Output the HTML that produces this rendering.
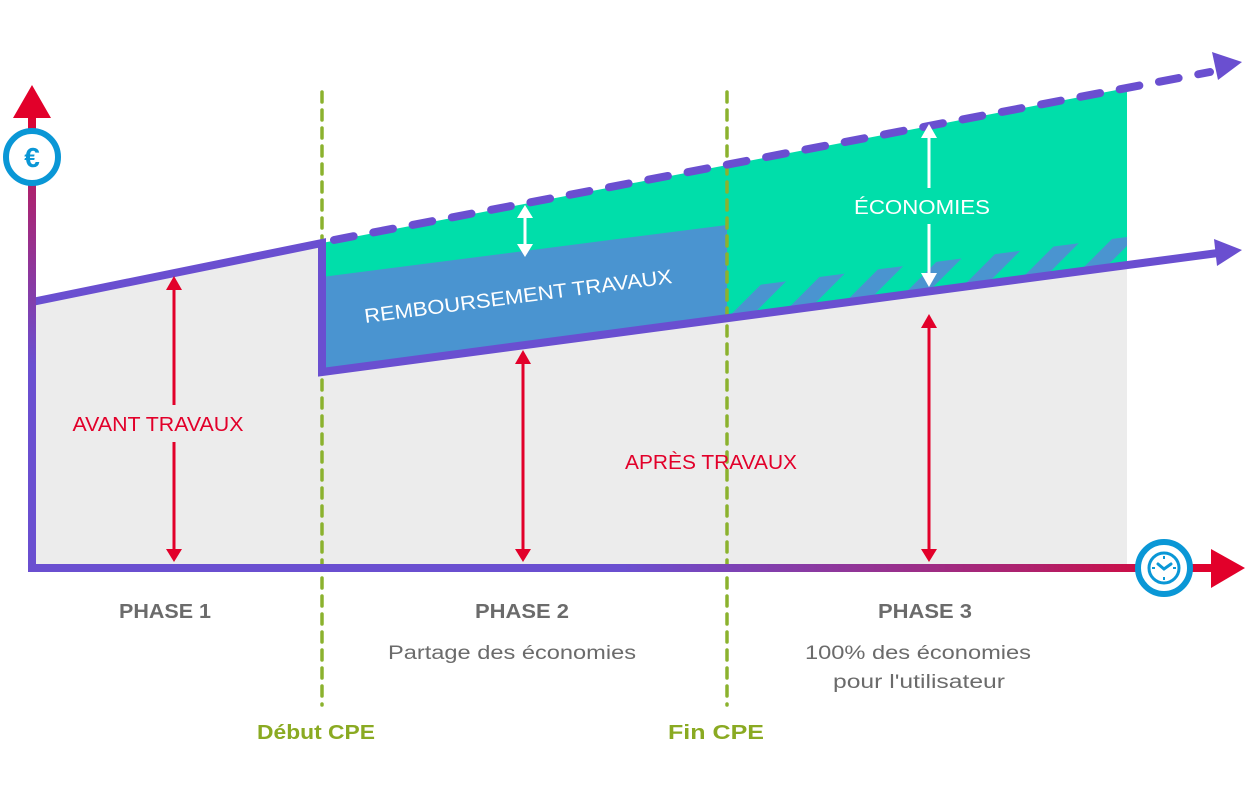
<!DOCTYPE html>
<html><head><meta charset="utf-8"><style>
html,body{margin:0;padding:0;background:#fff;width:1250px;height:788px;overflow:hidden}
svg{display:block}
text{font-family:"Liberation Sans",sans-serif}
</style></head><body>
<svg width="1250" height="788" viewBox="0 0 1250 788" xmlns="http://www.w3.org/2000/svg">
<defs>
<linearGradient id="gy" x1="0" y1="1" x2="0" y2="0"><stop offset="0" stop-color="#6a4fd0"/><stop offset="0.45" stop-color="#6a4fd0"/><stop offset="0.85" stop-color="#b0206a"/><stop offset="1" stop-color="#e2002a"/></linearGradient>
<linearGradient id="gx" x1="0" y1="0" x2="1" y2="0"><stop offset="0" stop-color="#6a4fd0"/><stop offset="0.5" stop-color="#6a4fd0"/><stop offset="0.85" stop-color="#b0206a"/><stop offset="1" stop-color="#e2002a"/></linearGradient>
<pattern id="hatch" patternUnits="userSpaceOnUse" width="36" height="20" patternTransform="translate(740,0) rotate(45)">
<rect x="0" y="0" width="15.5" height="20" fill="#4a94d0"/>
</pattern>
</defs>
<polygon points="32,302 322,243 322,372 1127,265 1127,568 32,568" fill="#ececec"/>
<polygon points="322,243 1127,88 1127,265 322,372" fill="#00deaa"/>
<polygon points="322,277 727,225 727,318 322,372" fill="#4a94d0"/>
<polygon points="727,289 1127,237 1127,265 727,318" fill="url(#hatch)"/>
<line x1="322" y1="92" x2="322" y2="705" stroke="#8bb22e" stroke-width="3.5" stroke-dasharray="10,8" stroke-linecap="round"/>
<line x1="727" y1="92" x2="727" y2="705" stroke="#8bb22e" stroke-width="3.5" stroke-dasharray="10,8" stroke-linecap="round"/>
<polyline points="32,302 322,243 322,372 1218,253" fill="none" stroke="#6a4fd0" stroke-width="8"/>
<polygon points="1242,250 1214,239 1217,266" fill="#6a4fd0"/>
<line x1="334" y1="240" x2="1210" y2="72" stroke="#6a4fd0" stroke-width="8" stroke-dasharray="20,20" stroke-linecap="round"/>
<polygon points="1242,62 1212,52 1218,80" fill="#6a4fd0"/>
<rect x="28" y="112" width="8" height="460" fill="url(#gy)"/>
<polygon points="32,85 13,118 51,118" fill="#e2002a"/>
<rect x="28" y="564" width="1190" height="8" fill="url(#gx)"/>
<polygon points="1245,568 1211,549 1211,588" fill="#e2002a"/>
<circle cx="32" cy="157" r="26" fill="#fff" stroke="#0a97d6" stroke-width="6"/>
<text x="32" y="167" text-anchor="middle" font-size="28" font-weight="bold" fill="#0a97d6">€</text>
<circle cx="1164" cy="568" r="26" fill="#fff" stroke="#0a97d6" stroke-width="6"/>
<circle cx="1164" cy="568" r="15" fill="none" stroke="#0a97d6" stroke-width="3"/>
<path d="M1164,556 v3 M1164,577 v3 M1152,568 h3 M1173,568 h3" stroke="#0a97d6" stroke-width="2"/>
<path d="M1158,564 L1164,569 L1171,564" fill="none" stroke="#0a97d6" stroke-width="3" stroke-linecap="round"/>
<g stroke="#e2002a" stroke-width="3">
<line x1="174" y1="288" x2="174" y2="405"/><line x1="174" y1="442" x2="174" y2="553"/>
<line x1="523" y1="362" x2="523" y2="553"/>
<line x1="929" y1="326" x2="929" y2="553"/>
</g>
<g fill="#e2002a">
<polygon points="174,276 166,290 182,290"/><polygon points="174,562 166,549 182,549"/>
<polygon points="523,350 515,364 531,364"/><polygon points="523,562 515,549 531,549"/>
<polygon points="929,314 921,328 937,328"/><polygon points="929,562 921,549 937,549"/>
</g>
<g stroke="#fff" stroke-width="3">
<line x1="525" y1="216" x2="525" y2="246"/>
<line x1="929" y1="136" x2="929" y2="188"/><line x1="929" y1="224" x2="929" y2="276"/>
</g>
<g fill="#fff">
<polygon points="525,205 517,218 533,218"/><polygon points="525,257 517,244 533,244"/>
<polygon points="929,124 921,138 937,138"/><polygon points="929,287 921,273 937,273"/>
</g>
<text x="158" y="431" text-anchor="middle" font-size="20" fill="#e2002a" textLength="171" lengthAdjust="spacingAndGlyphs">AVANT TRAVAUX</text>
<text x="711" y="469" text-anchor="middle" font-size="20" fill="#e2002a" textLength="172" lengthAdjust="spacingAndGlyphs">APRÈS TRAVAUX</text>
<text x="922" y="214" text-anchor="middle" font-size="20" fill="#fff" textLength="136" lengthAdjust="spacingAndGlyphs">ÉCONOMIES</text>
<text transform="translate(519,303) rotate(-7.4)" text-anchor="middle" font-size="20" fill="#fff" textLength="310" lengthAdjust="spacingAndGlyphs">REMBOURSEMENT TRAVAUX</text>
<g font-weight="bold" fill="#6b6b6b" font-size="20" text-anchor="middle">
<text x="165" y="618" textLength="92" lengthAdjust="spacingAndGlyphs">PHASE 1</text>
<text x="522" y="618" textLength="94" lengthAdjust="spacingAndGlyphs">PHASE 2</text>
<text x="925" y="618" textLength="94" lengthAdjust="spacingAndGlyphs">PHASE 3</text>
</g>
<g fill="#6b6b6b" font-size="19" text-anchor="middle">
<text x="512" y="659" textLength="248" lengthAdjust="spacingAndGlyphs">Partage des économies</text>
<text x="918" y="659" textLength="226" lengthAdjust="spacingAndGlyphs">100% des économies</text>
<text x="919" y="688" textLength="172" lengthAdjust="spacingAndGlyphs">pour l'utilisateur</text>
</g>
<g font-weight="bold" fill="#8aaa22" font-size="20" text-anchor="middle">
<text x="316" y="739" textLength="118" lengthAdjust="spacingAndGlyphs">Début CPE</text>
<text x="716" y="739" textLength="96" lengthAdjust="spacingAndGlyphs">Fin CPE</text>
</g>
</svg>
</body></html>
